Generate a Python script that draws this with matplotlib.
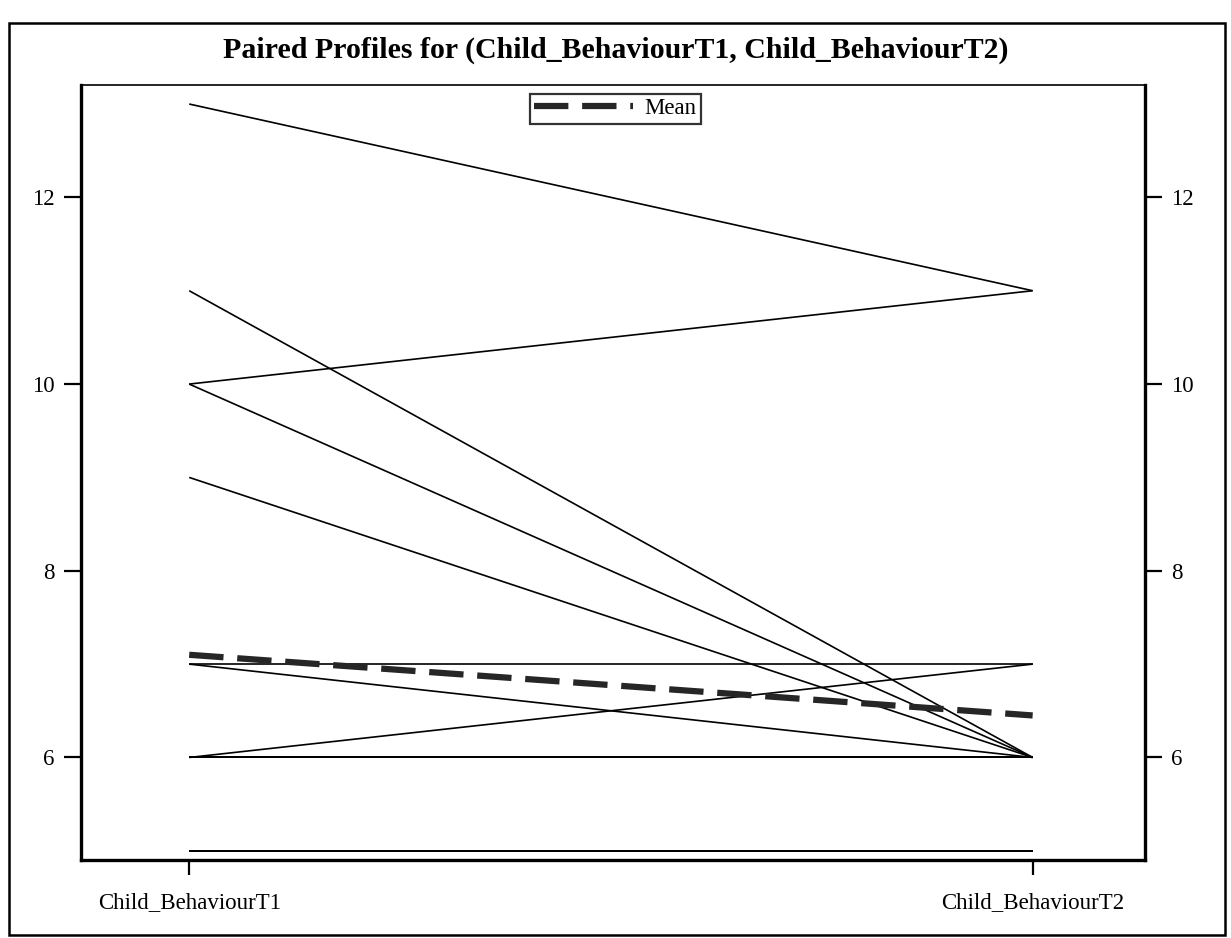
import matplotlib.pyplot as plt
import numpy as np
from matplotlib.patches import Rectangle

TITLE = "Paired Profiles for (Child_BehaviourT1, Child_BehaviourT2)"
TIME_LABELS = ["Child_BehaviourT1", "Child_BehaviourT2"]

# one entry per subject (overlapping lines repeated)
BEHAVIOUR_T1 = [13, 10, 11, 10, 9, 7, 7, 6, 6, 6, 6, 6, 6, 6, 6, 6, 6, 5, 5, 5]
BEHAVIOUR_T2 = [11, 11, 6, 6, 6, 7, 6, 7, 6, 6, 6, 6, 6, 6, 6, 6, 6, 5, 5, 5]

Y_TICKS = [6, 8, 10, 12]

plt.rcParams["font.family"] = ["Liberation Serif", "DejaVu Serif"]

fig = plt.figure(figsize=(12.31, 9.38), dpi=100)
ax = fig.add_axes([0.066, 0.083, 0.864, 0.826])

x_pos = np.arange(len(TIME_LABELS))
for t1, t2 in zip(BEHAVIOUR_T1, BEHAVIOUR_T2):
    ax.plot(x_pos, [t1, t2], color="black", lw=1.2, solid_capstyle="butt", zorder=2)

mean_vals = [np.mean(BEHAVIOUR_T1), np.mean(BEHAVIOUR_T2)]
ax.plot(x_pos, mean_vals, color="#262626", lw=4.5, dashes=(5.5, 2.2),
        label="Mean", zorder=3)

ax.set_xlim(-0.128, 1.133)
ax.set_ylim(4.9, 13.2)
ax.set_xticks(x_pos)
ax.set_xticklabels(TIME_LABELS, fontsize=16.5)
ax.set_yticks(Y_TICKS)
ax.tick_params(axis="y", labelsize=16.5, length=12, width=1.6, right=True,
               labelright=True, direction="out", pad=7)
ax.tick_params(axis="x", length=11, width=1.6, direction="out", pad=12)

for side in ["left", "bottom", "right"]:
    ax.spines[side].set_linewidth(2.4)
ax.spines["top"].set_linewidth(1.2)

leg = ax.legend(loc="upper center", bbox_to_anchor=(0.502, 0.995), fontsize=16.5,
                frameon=True, fancybox=False, edgecolor="black",
                handlelength=4.3, borderpad=0.2, handletextpad=0.5,
                borderaxespad=0.2)
leg.get_frame().set_linewidth(1.6)

fig.text(0.5, 0.946, TITLE, ha="center", va="center", fontsize=21.5,
         fontweight="bold")

fig.patches.append(Rectangle((0.007, 0.003), 0.988, 0.972, transform=fig.transFigure,
                             fill=False, edgecolor="black", lw=1.8))

fig.savefig("out.png", dpi=100, facecolor="white")
